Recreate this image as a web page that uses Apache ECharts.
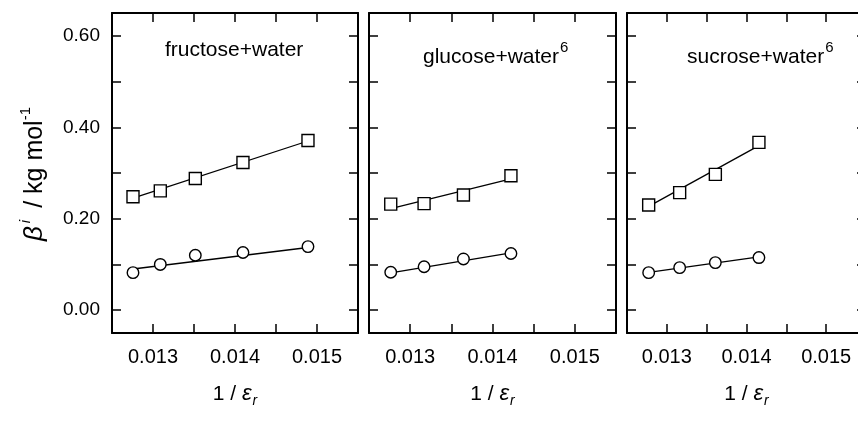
<!DOCTYPE html>
<html>
<head>
<meta charset="utf-8">
<script src="https://cdn.jsdelivr.net/npm/echarts@6/dist/echarts.min.js"></script>
<style>html,body{margin:0;padding:0;background:#fff}#c{width:858px;height:421px}</style>
</head>
<body>
<div id="c"></div>
<script>
// ---- data ----
const xTickValues = [0.0125, 0.013, 0.0135, 0.014, 0.0145, 0.015, 0.0155];
const xLabelValues = [0.013, 0.014, 0.015];
const yTickValues = [0, 0.1, 0.2, 0.3, 0.4, 0.5, 0.6];
const yLabelValues = [0, 0.2, 0.4, 0.6];

const panelTitles = ['fructose+water', 'glucose+water', 'sucrose+water'];
const panelRefs = ['', '6', '6'];

const fructoseX = [0.012756, 0.013089, 0.013516, 0.014097, 0.01489];
const fructoseSquares = [0.248, 0.261, 0.288, 0.323, 0.371];
const fructoseCircles = [0.082, 0.100, 0.120, 0.126, 0.139];
const fructoseSquareLine = [0.245, 0.370];
const fructoseCircleLine = [0.090, 0.137];

const glucoseX = [0.012764, 0.013169, 0.013647, 0.014224];
const glucoseSquares = [0.232, 0.233, 0.252, 0.294];
const glucoseCircles = [0.083, 0.095, 0.112, 0.124];
const glucoseSquareLine = [0.222, 0.287];
const glucoseCircleLine = [0.0815, 0.1255];

const sucroseX = [0.012772, 0.013161, 0.013609, 0.014156];
const sucroseSquares = [0.230, 0.257, 0.297, 0.367];
const sucroseCircles = [0.082, 0.093, 0.104, 0.115];
const sucroseSquareLine = [0.227, 0.360];
const sucroseCircleLine = [0.0826, 0.1164];

const panels = [
  {x: fructoseX, sq: fructoseSquares, ci: fructoseCircles, sqL: fructoseSquareLine, ciL: fructoseCircleLine},
  {x: glucoseX, sq: glucoseSquares, ci: glucoseCircles, sqL: glucoseSquareLine, ciL: glucoseCircleLine},
  {x: sucroseX, sq: sucroseSquares, ci: sucroseCircles, sqL: sucroseSquareLine, ciL: sucroseCircleLine}
];

// ---- layout ----
const FONT = '"Liberation Sans", Arial, Helvetica, sans-serif';
const grids = [
  {left: 112, top: 13, width: 246, height: 320},
  {left: 369, top: 13, width: 247, height: 320},
  {left: 627, top: 13, width: 239, height: 320}
];

const chart = echarts.init(document.getElementById('c'), null, {renderer: 'canvas'});

const xAxes = [], yAxes = [], series = [];
const axisLine = {show: true, onZero: false, lineStyle: {color: '#000', width: 2}};
const tickStyle = {color: '#000', width: 1.5};

grids.forEach((g, i) => {
  xAxes.push({
    type: 'value', gridIndex: i, position: 'bottom', min: 0.0125, max: 0.0155,
    axisLine: axisLine,
    axisTick: {show: true, inside: true, length: 9, lineStyle: tickStyle, customValues: xTickValues},
    axisLabel: {show: true, margin: 14, fontSize: 20, color: '#000', fontFamily: FONT,
      customValues: xLabelValues, formatter: v => v.toFixed(3)},
    splitLine: {show: false},
    name: '{n|1 / }{e|ε}{s|r}', nameLocation: 'middle', nameGap: 47,
    nameTextStyle: {
      rich: {
        n: {fontSize: 21, fontFamily: FONT, color: '#000', lineHeight: 28, verticalAlign: 'middle'},
        e: {fontSize: 22, fontFamily: FONT, fontStyle: 'italic', color: '#000', lineHeight: 28, verticalAlign: 'middle'},
        s: {fontSize: 14, fontFamily: FONT, fontStyle: 'italic', color: '#000', lineHeight: 28, verticalAlign: 'bottom', padding: [0,0,0,1]}
      }
    }
  });
  xAxes.push({
    type: 'value', gridIndex: i, position: 'top', min: 0.0125, max: 0.0155,
    axisLine: axisLine,
    axisTick: {show: true, inside: true, length: 9, lineStyle: tickStyle, customValues: xTickValues},
    axisLabel: {show: false}, splitLine: {show: false}
  });
  yAxes.push({
    type: 'value', gridIndex: i, position: 'left', min: -0.05, max: 0.65,
    axisLine: axisLine,
    axisTick: {show: true, inside: true, length: 9, lineStyle: tickStyle, customValues: yTickValues},
    axisLabel: {show: i === 0, margin: 12, fontSize: 19, color: '#000', fontFamily: FONT,
      customValues: yLabelValues, formatter: v => v.toFixed(2)},
    splitLine: {show: false}
  });
  yAxes.push({
    type: 'value', gridIndex: i, position: 'right', min: -0.05, max: 0.65,
    axisLine: axisLine,
    axisTick: {show: true, inside: true, length: 9, lineStyle: tickStyle, customValues: yTickValues},
    axisLabel: {show: false}, splitLine: {show: false}
  });

  const p = panels[i];
  const xb = 2 * i, yl = 2 * i;
  const n = p.x.length;
  series.push({
    type: 'line', xAxisIndex: xb, yAxisIndex: yl, symbol: 'none', silent: true, z: 2,
    lineStyle: {color: '#000', width: 1.3},
    data: [[p.x[0], p.sqL[0]], [p.x[n - 1], p.sqL[1]]]
  });
  series.push({
    type: 'line', xAxisIndex: xb, yAxisIndex: yl, symbol: 'none', silent: true, z: 2,
    lineStyle: {color: '#000', width: 1.3},
    data: [[p.x[0], p.ciL[0]], [p.x[n - 1], p.ciL[1]]]
  });
  series.push({
    type: 'scatter', xAxisIndex: xb, yAxisIndex: yl, symbol: 'rect', symbolSize: 12, z: 5,
    itemStyle: {color: '#fff', borderColor: '#000', borderWidth: 1.4, opacity: 1},
    data: p.x.map((x, k) => [x, p.sq[k]])
  });
  series.push({
    type: 'scatter', xAxisIndex: xb, yAxisIndex: yl, symbol: 'circle', symbolSize: 11.5, z: 5,
    itemStyle: {color: '#fff', borderColor: '#000', borderWidth: 1.4, opacity: 1},
    data: p.x.map((x, k) => [x, p.ci[k]])
  });
});

const titleRich = {
  t: {fontSize: 21, fontFamily: FONT, color: '#000', lineHeight: 28, verticalAlign: 'bottom'},
  s: {fontSize: 15, fontFamily: FONT, color: '#000', lineHeight: 28, verticalAlign: 'top', padding: [0, 0, 0, 1]}
};
const titleX = [165, 423, 687];

const graphic = panelTitles.map((t, i) => ({
  type: 'text', left: titleX[i], top: 40, z: 10,
  style: {
    text: '{t|' + t + '}' + (panelRefs[i] ? '{s|' + panelRefs[i] + '}' : ''),
    rich: titleRich
  }
}));

graphic.push({
  type: 'text', z: 10,
  x: 33, y: 174, rotation: Math.PI / 2,
  style: {
    text: '{b|β}{bs|i}{t| / kg mol}{s|-1}',
    align: 'center', verticalAlign: 'middle',
    rich: {
      b: {fontSize: 26, fontFamily: FONT, fontStyle: 'italic', color: '#000', lineHeight: 30, verticalAlign: 'bottom'},
      bs: {fontSize: 15, fontFamily: FONT, fontStyle: 'italic', color: '#000', lineHeight: 30, verticalAlign: 'top', padding: [0, 5, 0, 3]},
      t: {fontSize: 25, fontFamily: FONT, color: '#000', lineHeight: 30, verticalAlign: 'bottom'},
      s: {fontSize: 15, fontFamily: FONT, color: '#000', lineHeight: 30, verticalAlign: 'top'}
    }
  }
});

chart.setOption({
  animation: false,
  backgroundColor: '#fff',
  grid: grids.map(g => Object.assign({containLabel: false, outerBoundsMode: 'none'}, g)),
  xAxis: xAxes,
  yAxis: yAxes,
  series: series,
  graphic: graphic
});
</script>
</body>
</html>
